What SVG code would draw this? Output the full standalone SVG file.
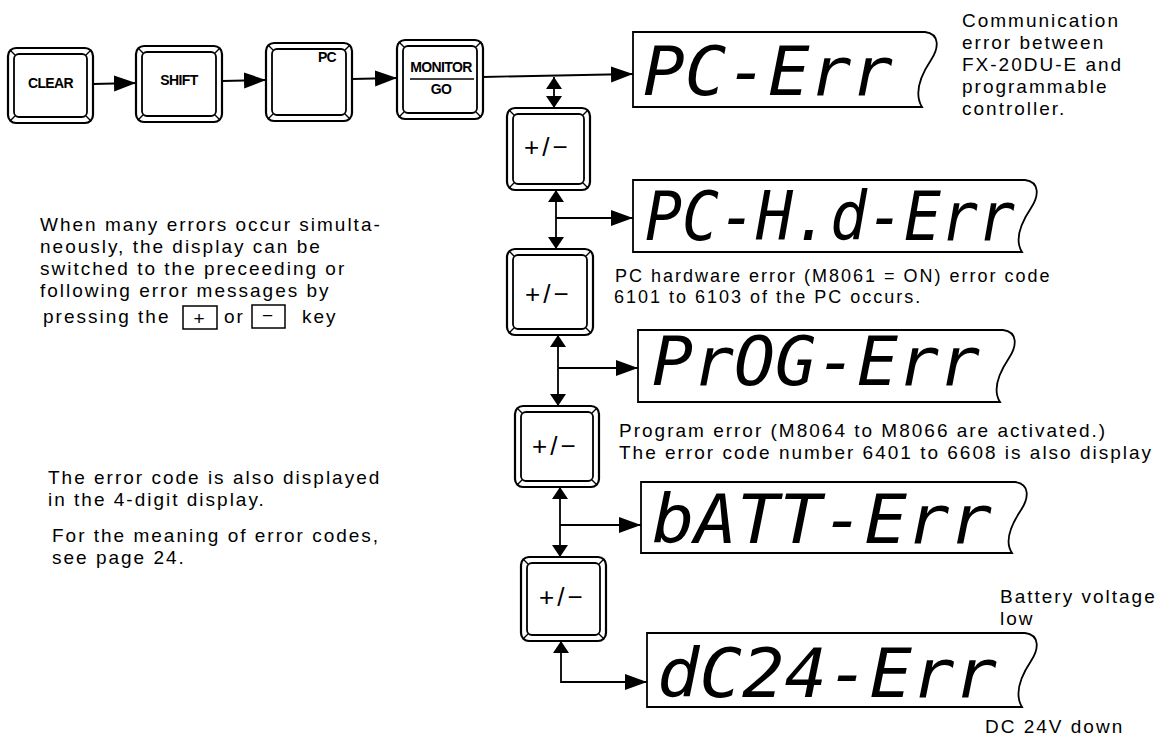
<svg xmlns="http://www.w3.org/2000/svg" width="1168" height="737" viewBox="0 0 1168 737">
<style>
.ko{fill:none;stroke:#000;stroke-width:2.2}
.ki{fill:none;stroke:#000;stroke-width:1.8}
.kt{fill:none;stroke:#000;stroke-width:1.4}
.kl{font-family:"Liberation Sans",Arial,sans-serif;font-weight:bold;font-size:14px;letter-spacing:-0.6px}
.pm{font-family:"Liberation Sans",Arial,sans-serif;font-size:26px;letter-spacing:3px}
.disp{fill:#fff;stroke:#000;stroke-width:1.8}
.seg{font-family:"DejaVu Sans Mono",monospace;font-style:oblique;font-size:68px}
.t{font-family:"Liberation Sans",Arial,sans-serif;font-size:19px;letter-spacing:2px;fill:#000}
.s{font-size:18px}
.c{fill:none;stroke:#000;stroke-width:1.8}
</style>
<defs>
<marker id="ah" markerUnits="userSpaceOnUse" markerWidth="24" markerHeight="18" refX="22" refY="8" orient="auto-start-reverse"><path d="M0,0 L22,8 L0,16 Z" fill="#000"/></marker>
<marker id="av" markerUnits="userSpaceOnUse" markerWidth="14" markerHeight="18" refX="12" refY="8" orient="auto-start-reverse"><path d="M0,0 L12,8 L0,16 Z" fill="#000"/></marker>
</defs>
<rect width="1168" height="737" fill="#fff"/>

<g id="key-clear">
<rect class="ko" x="8" y="48" width="85" height="75" rx="8"/>
<rect class="ki" x="14" y="54" width="73" height="63" rx="5"/>
<path class="kt" d="M10,50 l5,5 M91,50 l-5,5 M10,121 l5,-5 M91,121 l-5,-5"/>
<text class="kl" x="50.5" y="88" text-anchor="middle">CLEAR</text>
</g>
<g id="key-shift">
<rect class="ko" x="136" y="46" width="86" height="76" rx="8"/>
<rect class="ki" x="142" y="52" width="74" height="64" rx="5"/>
<path class="kt" d="M138,48 l5,5 M220,48 l-5,5 M138,120 l5,-5 M220,120 l-5,-5"/>
<text class="kl" x="179" y="85" text-anchor="middle">SHIFT</text>
</g>
<g id="key-pc">
<rect class="ko" x="266" y="43" width="86" height="78" rx="8"/>
<rect class="ki" x="272" y="49" width="74" height="66" rx="5"/>
<path class="kt" d="M268,45 l5,5 M350,45 l-5,5 M268,119 l5,-5 M350,119 l-5,-5"/>
<text class="kl" x="327" y="62" text-anchor="middle">PC</text>
</g>
<g id="key-monitor">
<rect class="ko" x="397" y="40" width="86" height="79" rx="8"/>
<rect class="ki" x="403" y="46" width="74" height="67" rx="5"/>
<path class="kt" d="M399,42 l5,5 M481,42 l-5,5 M399,117 l5,-5 M481,117 l-5,-5"/>
<text class="kl" x="441" y="72" text-anchor="middle">MONITOR</text>
<line x1="410" y1="79" x2="474" y2="79" stroke="#000" stroke-width="1.5"/>
<text class="kl" x="441" y="94" text-anchor="middle">GO</text>
</g>

<g id="key-pm1">
<rect class="ko" x="507" y="108" width="83" height="82" rx="8"/>
<rect class="ki" x="513" y="114" width="71" height="70" rx="5"/>
<path class="kt" d="M509,110 l5,5 M588,110 l-5,5 M509,188 l5,-5 M588,188 l-5,-5"/>
<text class="pm" x="524" y="156">+/−</text>
</g>
<g id="key-pm2">
<rect class="ko" x="507" y="249" width="86" height="86" rx="8"/>
<rect class="ki" x="513" y="255" width="74" height="74" rx="5"/>
<path class="kt" d="M509,251 l5,5 M591,251 l-5,5 M509,333 l5,-5 M591,333 l-5,-5"/>
<text class="pm" x="525" y="303">+/−</text>
</g>
<g id="key-pm3">
<rect class="ko" x="515" y="406" width="84" height="81" rx="8"/>
<rect class="ki" x="521" y="412" width="72" height="69" rx="5"/>
<path class="kt" d="M517,408 l5,5 M597,408 l-5,5 M517,485 l5,-5 M597,485 l-5,-5"/>
<text class="pm" x="532" y="455">+/−</text>
</g>
<g id="key-pm4">
<rect class="ko" x="521" y="557" width="85" height="84" rx="8"/>
<rect class="ki" x="527" y="563" width="73" height="72" rx="5"/>
<path class="kt" d="M523,559 l5,5 M604,559 l-5,5 M523,639 l5,-5 M604,639 l-5,-5"/>
<text class="pm" x="539" y="606">+/−</text>
</g>

<g id="disp-1">
<path class="disp" d="M633,32 H925 C940,34 939,48 931,60 C923,72 913,92 922,107 H633 Z"/>
<text class="seg" x="643" y="95" textLength="250" lengthAdjust="spacingAndGlyphs">PC-Err</text>
</g>
<g id="disp-2">
<path class="disp" d="M633,180 H1025 C1040,182 1039,196 1031,208 C1023,220 1013,238 1022,252 H633 Z"/>
<text class="seg" x="645" y="240" textLength="370" lengthAdjust="spacingAndGlyphs">PC-H.d-Err</text>
</g>
<g id="disp-3">
<path class="disp" d="M638,330 H1003 C1018,332 1017,346 1009,358 C1001,370 991,388 1000,402 H638 Z"/>
<text class="seg" x="652" y="385" textLength="328" lengthAdjust="spacingAndGlyphs">PrOG-Err</text>
</g>
<g id="disp-4">
<path class="disp" d="M641,482 H1015 C1030,484 1029,498 1021,510 C1013,522 1003,540 1012,553 H641 Z"/>
<text class="seg" x="652" y="543" textLength="340" lengthAdjust="spacingAndGlyphs">bATT-Err</text>
</g>
<g id="disp-5">
<path class="disp" d="M647,633 H1025 C1040,635 1039,649 1031,661 C1023,673 1013,692 1022,707 H647 Z"/>
<text class="seg" x="657" y="697" textLength="340" lengthAdjust="spacingAndGlyphs">dC24-Err</text>
</g>

<g id="connectors">
<path class="c" d="M93,84 L136,83" marker-end="url(#ah)"/>
<path class="c" d="M222,81 L266,80" marker-end="url(#ah)"/>
<path class="c" d="M352,79 L397,78" marker-end="url(#ah)"/>
<path class="c" d="M483,77 L633,74" marker-end="url(#ah)"/>
<path class="c" d="M554,77 L554,108" marker-start="url(#av)" marker-end="url(#av)"/>
<path class="c" d="M556,190 L556,249" marker-start="url(#av)" marker-end="url(#av)"/>
<path class="c" d="M556,218 L633,218" marker-end="url(#ah)"/>
<path class="c" d="M558,335 L558,406" marker-start="url(#av)" marker-end="url(#av)"/>
<path class="c" d="M558,368 L638,368" marker-end="url(#ah)"/>
<path class="c" d="M560,487 L560,557" marker-start="url(#av)" marker-end="url(#av)"/>
<path class="c" d="M560,525 L641,525" marker-end="url(#ah)"/>
<path class="c" d="M561,641 L561,682 L647,682" marker-start="url(#av)" marker-end="url(#ah)"/>
</g>

<g id="notes">
<text class="t" x="962" y="27">Communication</text>
<text class="t" x="962" y="49">error between</text>
<text class="t" x="962" y="71">FX-20DU-E and</text>
<text class="t" x="962" y="93">programmable</text>
<text class="t" x="962" y="115">controller.</text>

<text class="t" x="40" y="231">When many errors occur simulta-</text>
<text class="t" x="40" y="253">neously, the display can be</text>
<text class="t" x="40" y="275">switched to the preceeding or</text>
<text class="t" x="40" y="297">following error messages by</text>
<text class="t" x="43" y="323">pressing the</text>
<rect x="183" y="306" width="34" height="23" fill="none" stroke="#000" stroke-width="1.5"/>
<text class="t" x="200" y="325" letter-spacing="0" text-anchor="middle">+</text>
<text class="t" x="224" y="323">or</text>
<rect x="252" y="305" width="33" height="23" fill="none" stroke="#000" stroke-width="1.5"/>
<text class="t" x="268.5" y="322" letter-spacing="0" text-anchor="middle">−</text>
<text class="t" x="302" y="323">key</text>

<text class="t s" x="615" y="282">PC hardware error (M8061 = ON) error code</text>
<text class="t s" x="614" y="303">6101 to 6103 of the PC occurs.</text>
<text class="t" x="619" y="437">Program error (M8064 to M8066 are activated.)</text>
<text class="t" x="619" y="459">The error code number 6401 to 6608 is also display</text>

<text class="t" x="48" y="484">The error code is also displayed</text>
<text class="t" x="48" y="506">in the 4-digit display.</text>
<text class="t" x="52" y="542">For the meaning of error codes,</text>
<text class="t" x="52" y="564">see page 24.</text>

<text class="t" x="1000" y="603">Battery voltage</text>
<text class="t" x="1000" y="625">low</text>
<text class="t" x="985" y="733">DC 24V down</text>
</g>
</svg>
